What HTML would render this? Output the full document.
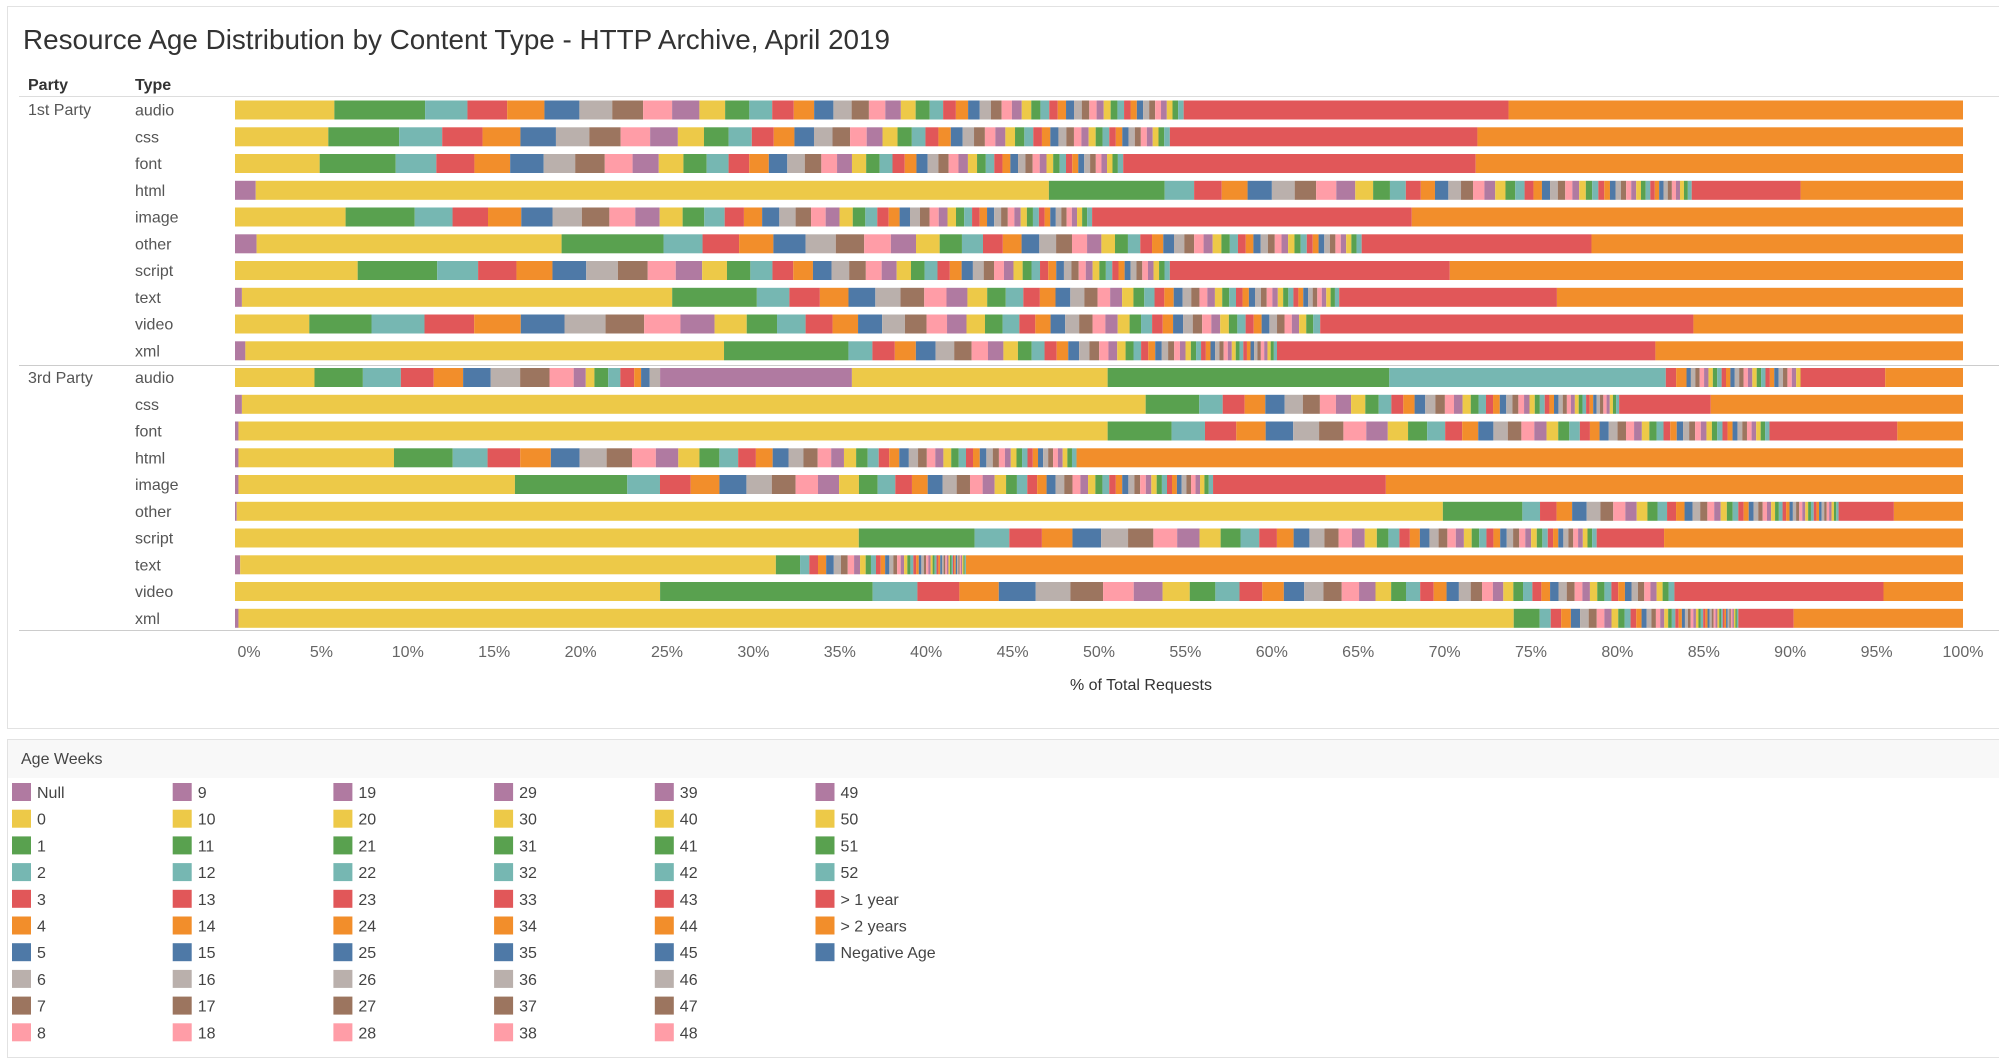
<!DOCTYPE html>
<html><head><meta charset="utf-8"><style>
html,body{margin:0;padding:0;background:#fff;}
svg{display:block;font-family:"Liberation Sans Narrow","Liberation Sans",sans-serif;}
</style></head><body>
<svg id="s" width="1999" height="1062" xmlns="http://www.w3.org/2000/svg">
<rect x="0" y="0" width="1999" height="1062" fill="#fff"/>
<rect x="7.5" y="6.5" width="2000" height="722" fill="#fff" stroke="#e2e2e2"/>
<rect x="7.5" y="739.5" width="2000" height="318" fill="#fff" stroke="#e2e2e2"/>
<rect x="8" y="740" width="1991" height="38" fill="#f8f8f8"/>
<text x="23" y="49" font-size="28" fill="#333" textLength="867" lengthAdjust="spacingAndGlyphs">Resource Age Distribution by Content Type - HTTP Archive, April 2019</text>
<text x="28" y="90" font-size="16" font-weight="bold" fill="#333">Party</text>
<text x="135" y="90" font-size="16" font-weight="bold" fill="#333">Type</text>
<line x1="19" y1="96.5" x2="1999" y2="96.5" stroke="#ddd"/>
<line x1="19" y1="365.5" x2="1999" y2="365.5" stroke="#ccc"/>
<line x1="19" y1="630.5" x2="1999" y2="630.5" stroke="#ccc"/>
<text x="28" y="115" font-size="16" fill="#555">1st Party</text>
<text x="28" y="383" font-size="16" fill="#555">3rd Party</text>
<text x="1141" y="690" font-size="16" fill="#333" text-anchor="middle">% of Total Requests</text>
<text x="21" y="764" font-size="16" fill="#444">Age Weeks</text>
<g id="g"></g>
</svg>
<script>
var P=["#B07AA1","#EDC948","#59A14F","#76B7B2","#E15759","#F28E2B","#4E79A7","#BAB0AC","#9C755F","#FF9DA7"];
var wc=function(w){return P[(w+1)%10];};
var g=document.getElementById('g'),NS="http://www.w3.org/2000/svg",h='';
var X0=235,W=1728;
function rect(a,b,y,c){h+='<rect x="'+(X0+a*W/100).toFixed(2)+'" y="'+y+'" width="'+Math.max(0.6,(b-a)*W/100).toFixed(2)+'" height="19" fill="'+c+'"/>';}
var rows=[
["audio",0,5.75,11.0,54.9,73.7],["css",0,5.4,9.5,54.1,71.9],["font",0,4.9,9.3,51.4,71.8],
["html",1.2,47.1,53.8,84.3,90.6],["image",0,6.4,10.4,49.6,68.1],["other",1.25,18.9,24.8,65.2,78.5],
["script",0,7.1,11.7,54.1,70.3],["text",0.4,25.3,30.2,63.9,76.5],["video",0,4.3,7.9,62.8,84.4],
["xml",0.6,28.3,35.5,60.3,82.2],
["audio",0,4.6,7.4,90.6,95.5],["css",0.4,52.7,55.8,80.1,85.4],["font",0.2,50.5,54.2,88.8,96.2],
["html",0.2,9.2,12.6,48.7,48.7],["image",0.2,16.2,22.7,56.6,66.6],["other",0.1,69.9,74.5,92.8,96],
["script",0,36.1,42.8,78.8,82.7],["text",0.3,31.3,32.7,42.3,42.3],["video",0,24.6,36.9,83.3,95.4],
["xml",0.2,74.0,75.5,87.0,90.2]];
rows.forEach(function(r,i){
 var cy=110+i*26.75, y=(cy-9.5).toFixed(1);
 h+='<text x="135" y="'+(cy+5.5).toFixed(1)+'" font-size="16" fill="#555">'+r[0]+'</text>';
 var a=0;
 if(r[1]>0){rect(0,r[1],y,P[0]);}
 rect(r[1],r[2],y,wc(0)); rect(r[2],r[3],y,wc(1));
 if(i==10){
  // 3rd party audio special
  var segs=[[7.4,9.6,2],[9.6,11.5,3],[11.5,13.2,4],[13.2,14.8,5],[14.8,16.5,6],[16.5,18.2,7],[18.2,19.6,8],[19.6,20.3,9],[20.3,20.8,10],[20.8,21.6,11],[21.6,22.3,12],[22.3,23.1,13],[23.1,23.5,14],[23.5,24.0,15],[24.0,24.6,16],[24.6,35.7,19],[35.7,50.5,20],[50.5,66.8,21],[66.8,82.8,22],[82.8,83.4,23],[83.4,84.0,24]];
  segs.forEach(function(s){rect(s[0],s[1],y,wc(s[2]));});
  var x=84.0,n=26,wd=(90.6-84)/n;for(var k=25;k<=52;k++){rect(x,x+wd,y,wc(k));x+=wd;}
 } else {
  var ws=[],t=0;for(var k=2;k<=52;k++){var v=Math.pow(0.93,k-2)+0.12;ws.push(v);t+=v;}
  var x=r[3];for(var k=2;k<=52;k++){var wd=ws[k-2]/t*(r[4]-r[3]);rect(x,x+wd,y,wc(k));x+=wd;}
 }
 if(r[5]>r[4]) rect(r[4],r[5],y,"#E15759");
 rect(r[5],100,y,"#F28E2B");
});
for(var p=0;p<=100;p+=5){var x=X0+p*W/100;h+='<text x="'+(x+(p==0?14:0)).toFixed(1)+'" y="657" font-size="16" fill="#666" text-anchor="middle">'+p+'%</text>';}
var labels=["Null"];for(var k=0;k<=52;k++)labels.push(""+k);labels.push("> 1 year","> 2 years","Negative Age");
var cols=["#B07AA1"];for(var k=0;k<=52;k++)cols.push(wc(k));cols.push("#E15759","#F28E2B","#4E79A7");
labels.forEach(function(l,i){var c=Math.floor(i/10),rr=i%10;var x=12+c*160.7,y=783+rr*26.7;
 h+='<rect x="'+x.toFixed(1)+'" y="'+y.toFixed(1)+'" width="19" height="18" fill="'+cols[i]+'"/>';
 h+='<text x="'+(x+25).toFixed(1)+'" y="'+(y+15).toFixed(1)+'" font-size="16" fill="#444">'+l.replace('>','&gt;')+'</text>';});
g.innerHTML=h;
</script>
</body></html>
